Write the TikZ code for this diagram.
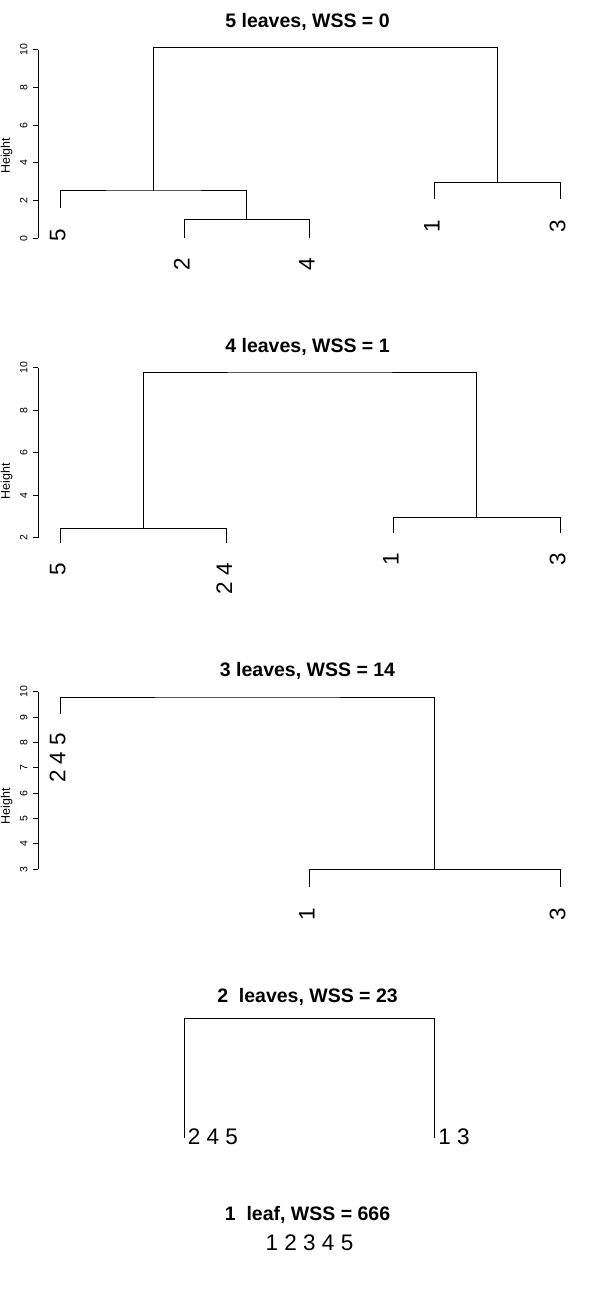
\documentclass[tikz,border=0pt]{standalone}
\usepackage{fontspec}
\setmainfont{Liberation Sans}
\newcommand\leaffont{\fontsize{22.5}{26}\selectfont}
\newcommand\titlefont{\fontsize{19.5}{23}\selectfont\bfseries}
\newcommand\tickfont{\fontsize{10.5}{12}\selectfont}
\newcommand\ylabfont{\fontsize{12.5}{14}\selectfont}
\begin{document}
\begin{tikzpicture}[x=1pt,y=-1pt,line width=1pt,
  vleaf/.style={font=\leaffont,inner sep=0pt,rotate=90,anchor=base east},
  hleaf/.style={font=\leaffont,inner sep=0pt,anchor=base west},
  ttl/.style={font=\titlefont,inner sep=0pt,anchor=base},
  ticklbl/.style={font=\tickfont,inner sep=0pt,rotate=90},
  ylab/.style={font=\ylabfont,inner sep=0pt,rotate=90},
  axisline/.style={line width=1pt},
  dend/.style={line width=1pt}]
\useasboundingbox (0,0) rectangle (600,1300);

% ---------------- panel 1 ----------------
\node[ttl] (t1) at (307.5,27.7) {5 leaves, WSS = 0};
\node[ylab] (y1) at (6.7,155.8) {Height};
\coordinate (a1b) at (38.3,238.3);
\coordinate (a1t) at (38.3,50);
\draw[axisline] (a1b) -- (a1t);
\foreach \v in {0,2,4,6,8,10}{
  \pgfmathsetmacro\yy{238.3-18.83*\v}
  \draw[axisline] (33.3,\yy) -- (38.3,\yy);
  \node[ticklbl] at (23.7,\yy) {\v};
}
\coordinate (a5) at (60,208.3);
\coordinate (a2) at (184.3,237.7);
\coordinate (a4) at (309.3,237.7);
\coordinate (a1) at (434.3,199.3);
\coordinate (a3) at (560,199.3);
\coordinate (m24) at (246.8,219.3);
\coordinate (m524) at (153.4,191);
\coordinate (m13) at (497.2,182.3);
\coordinate (mtop1) at (325.3,47.3);
\draw[dend] (a2) |- (m24) -| (a4);
\draw[dend] (a5) |- (m524) -| (m24);
\draw[dend] (a1) |- (m13) -| (a3);
\draw[dend] (m524) |- (mtop1) -| (m13);
\node[vleaf] (la5) at (65.4,228) {5};
\node[vleaf] (la2) at (189.7,257.5) {2};
\node[vleaf] (la4) at (314.7,257.5) {4};
\node[vleaf] (la1) at (439.7,219) {1};
\node[vleaf] (la3) at (565.4,219) {3};

% ---------------- panel 2 ----------------
\node[ttl] (t2) at (307.5,352.5) {4 leaves, WSS = 1};
\node[ylab] (y2) at (6.7,481) {Height};
\coordinate (b2b) at (38.3,537.7);
\coordinate (b2t) at (38.3,367.7);
\draw[axisline] (b2b) -- (b2t);
\foreach \v in {2,4,6,8,10}{
  \pgfmathsetmacro\yy{537.7-21.25*(\v-2)}
  \draw[axisline] (33.3,\yy) -- (38.3,\yy);
  \node[ticklbl] at (23.7,\yy) {\v};
}
\coordinate (b5) at (60,543.3);
\coordinate (b24) at (226.7,543.3);
\coordinate (b1) at (393.3,532.7);
\coordinate (b3) at (560,532.7);
\coordinate (n524) at (143.3,528.3);
\coordinate (n13) at (476.7,517.3);
\coordinate (ntop) at (310,372);
\draw[dend] (b5) |- (n524) -| (b24);
\draw[dend] (b1) |- (n13) -| (b3);
\draw[dend] (n524) |- (ntop) -| (n13);
\node[vleaf] (lb5) at (65.4,562.5) {5};
\node[vleaf] (lb24) at (232.1,562.5) {2 4};
\node[vleaf] (lb1) at (398.7,552) {1};
\node[vleaf] (lb3) at (565.4,552) {3};

% ---------------- panel 3 ----------------
\node[ttl] (t3) at (307.5,676.5) {3 leaves, WSS = 14};
\node[ylab] (y3) at (6.7,806) {Height};
\coordinate (c3b) at (38.3,869.3);
\coordinate (c3t) at (38.3,691.7);
\draw[axisline] (c3b) -- (c3t);
\foreach \v in {3,4,5,6,7,8,9,10}{
  \pgfmathsetmacro\yy{869.3-25.37*(\v-3)}
  \draw[axisline] (33.3,\yy) -- (38.3,\yy);
  \node[ticklbl] at (23.7,\yy) {\v};
}
\coordinate (c245) at (60,714.3);
\coordinate (c1) at (309.3,887.3);
\coordinate (c3) at (560,887.3);
\coordinate (p13) at (434.6,869.3);
\coordinate (ptop) at (247.3,697);
\draw[dend] (c1) |- (p13) -| (c3);
\draw[dend] (c245) |- (ptop) -| (p13);
\node[vleaf] (lc245) at (65.4,732.3) {2 4 5};
\node[vleaf] (lc1) at (314.7,907) {1};
\node[vleaf] (lc3) at (565.4,907) {3};

% ---------------- panel 4 ----------------
\node[ttl] (t4) at (307.5,1002.5) {2~ leaves, WSS = 23};
\coordinate (d245) at (184.3,1138);
\coordinate (d13) at (434.3,1138);
\coordinate (qtop) at (309.3,1018);
\draw[dend] (d245) |- (qtop) -| (d13);
\node[hleaf] (ld245) at (187.3,1144) {2 4 5};
\node[hleaf] (ld13) at (437.8,1144) {1 3};

% ---------------- panel 5 ----------------
\node[ttl] (t5) at (307.5,1220) {1~ leaf, WSS = 666};
\node[font=\leaffont,inner sep=0pt,anchor=base] (le) at (309.5,1250) {1 2 3 4 5};
\end{tikzpicture}
\end{document}
